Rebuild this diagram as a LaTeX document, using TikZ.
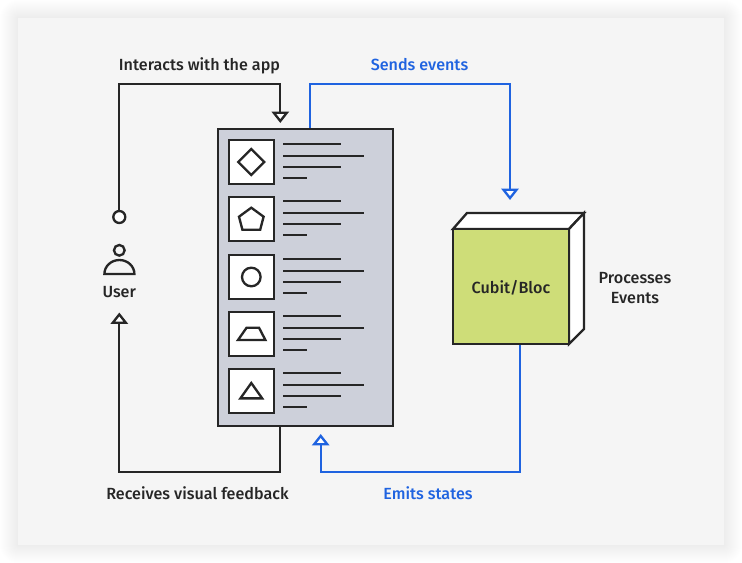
\documentclass[tikz,border=0pt]{standalone}
\usepackage{fontspec}
\setmainfont{Fira Sans Medium}
\usetikzlibrary{arrows.meta,calc}
\definecolor{ink}{HTML}{262626}
\definecolor{bluel}{HTML}{1F63E0}
\definecolor{panelbg}{HTML}{F5F5F5}
\definecolor{appgray}{HTML}{CDD0DA}
\definecolor{cubegreen}{HTML}{CEDD78}
\tikzset{
  x=.75pt,y=-.75pt,
  lw/.style={line width=1.75pt,line join=miter},
  shape line/.style={lw,draw=ink,fill=white},
  text line/.style={lw,draw=ink},
  lbl/.style={font=\fontsize{12.1pt}{15pt}\selectfont,text=ink,inner sep=0pt,align=center,anchor=base},
  bluelbl/.style={lbl,text=bluel},
  conn/.style={lw,draw=ink,-{Triangle[open,fill=white,length=8.6pt,width=13pt]}},
  connb/.style={lw,draw=bluel,-{Triangle[open,fill=white,length=8.6pt,width=13pt]}},
  appbox/.style={rectangle,draw=ink,lw,fill=appgray,minimum width=131.25pt,minimum height=222.75pt,inner sep=0pt},
  iconbox/.style={rectangle,draw=ink,lw,fill=white,minimum width=33.75pt,minimum height=33pt,inner sep=0pt},
  cubefront/.style={rectangle,draw=ink,lw,fill=cubegreen,minimum width=87pt,minimum height=86.25pt,inner sep=0pt},
  dot/.style={circle,draw=ink,lw,fill=white,minimum size=9pt,inner sep=0pt},
}
\newcommand{\textlines}[1]{%
  \draw[text line] (283,#1+144) -- (341,#1+144);
  \draw[text line] (283,#1+156) -- (364,#1+156);
  \draw[text line] (283,#1+167) -- (341,#1+167);
  \draw[text line] (283,#1+178) -- (306.5,#1+178);
}
\begin{document}
\begin{tikzpicture}
\useasboundingbox (0,0) rectangle (742,563);
\fill[white] (0,0) rectangle (742,563);
% soft shadow
\foreach \i in {1,...,18}{
  \fill[black,opacity=.0055,rounded corners=\i*.75pt] (18-\i,18-\i) rectangle (724+\i,545+\i);
}
\fill[panelbg] (18,18) rectangle (724,545);

% app panel
\node[appbox] (app) at (305.5,277.5) {};
\node[iconbox] (b1) at (251.5,162) {};
\node[iconbox] (b2) at (251.5,219) {};
\node[iconbox] (b3) at (251.5,277) {};
\node[iconbox] (b4) at (251.5,334) {};
\node[iconbox] (b5) at (251.5,391) {};
\textlines{0}
\textlines{57}
\textlines{115}
\textlines{172}
\textlines{229}
\draw[shape line] (251.3,149) -- (264.3,162) -- (251.3,175) -- (238.3,162) -- cycle;
\draw[shape line] (251.3,207.7) -- (263.6,216.7) -- (260.2,229.7) -- (242.4,229.7) -- (239,216.7) -- cycle;
\draw[shape line] (251.3,277) circle[radius=9.3];
\draw[shape line] (246.6,327.7) -- (259,327.7) -- (265.4,340) -- (238,340) -- cycle;
\draw[shape line] (251.3,383) -- (262.2,398.4) -- (240.4,398.4) -- cycle;

% cube
\draw[shape line] (453,229) -- (467,213) -- (584,213) -- (569,229) -- cycle;
\draw[shape line] (569,229) -- (584,213) -- (584,329) -- (569,344) -- cycle;
\node[cubefront] (cube) at (511,286.5) {};
\node[lbl] (cubelabel) at (511,293.5) {Cubit/Bloc};
\node[lbl] (proc1) at (635,283) {Processes};
\node[lbl] (proc2) at (635,303) {Events};

% user
\node[dot] (start) at (119.3,217) {};
\node[circle,draw=ink,lw,fill=none,minimum size=8pt,inner sep=0pt] (head) at (119.3,250.3) {};
\draw[lw,draw=ink] (104.4,274) arc[start angle=180,end angle=360,x radius=15,y radius=14] -- cycle;
\node[lbl] (user) at (119.2,297.5) {User};

% connectors
\coordinate (a1tip) at (280.3,123);
\draw[conn] (start.north) |- (280.3,84) -- (a1tip);
\coordinate (a2tip) at (119.3,312.5);
\draw[conn] (app.south -| 280,0) -- (280,472) -- (119.3,472) -- (a2tip);
\coordinate (a3tip) at (510,200);
\draw[connb] (app.north -| 310,0) -- (310,84) -- (510,84) -- (a3tip);
\coordinate (a4tip) at (320.7,434);
\draw[connb] (cube.south -| 520,0) -- (520,472) -- (320.7,472) -- (a4tip);

% labels
\node[lbl] (l1) at (199.5,70.5) {Interacts with the app};
\node[bluelbl] (l2) at (419.5,70.5) {Sends events};
\node[lbl] (l3) at (197.5,499.5) {Receives visual feedback};
\node[bluelbl] (l4) at (428,499.5) {Emits states};
\end{tikzpicture}
\end{document}
